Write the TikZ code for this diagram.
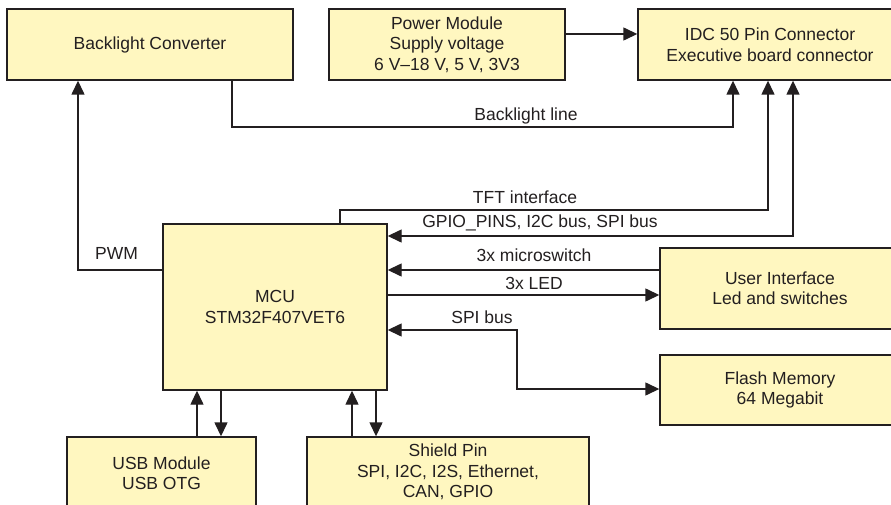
\documentclass[tikz,border=0pt]{standalone}
\usepackage{fontspec}
\setmainfont{Liberation Sans}
\usetikzlibrary{arrows.meta}
\definecolor{boxfill}{HTML}{FFF7C0}
\definecolor{ink}{HTML}{231F20}
\begin{document}
\begin{tikzpicture}[x=1pt,y=-1pt,
  box/.style={draw=ink, fill=boxfill, line width=1.4pt, inner sep=0pt, align=center,
    text=ink, font=\fontsize{17.5}{20.5}\selectfont},
  ln/.style={draw=ink, line width=1.4pt},
  arr/.style={ln, -{Triangle[length=14pt,width=13pt]}},
  arrb/.style={ln, {Triangle[length=14pt,width=13pt]}-{Triangle[length=14pt,width=13pt]}},
  lbl/.style={anchor=base, inner sep=0pt, text=ink, font=\fontsize{17.5}{20.5}\selectfont}]
\clip (0,0) rectangle (891,505);
\fill[white] (0,0) rectangle (891,505);

% boxes
\node[box, minimum width=286pt, minimum height=71pt] (bc) at (150,44.5) {Backlight Converter};
\node[box, minimum width=236pt, minimum height=71pt] (pm) at (447,44.5) {Power Module\\Supply voltage\\6 V\textendash18 V, 5 V, 3V3};
\node[box, minimum width=264pt, minimum height=71pt] (idc) at (770,44.5) {IDC 50 Pin Connector\\Executive board connector};
\node[box, minimum width=224pt, minimum height=166pt] (mcu) at (275,307) {MCU\\STM32F407VET6};
\node[box, minimum width=240pt, minimum height=81pt] (ui) at (780,288.5) {User Interface\\Led and switches};
\node[box, minimum width=240pt, minimum height=70pt] (fm) at (780,390) {Flash Memory\\64 Megabit};
\node[box, minimum width=189pt, minimum height=72pt] (usb) at (161.5,473) {USB Module\\USB OTG};
\node[box, minimum width=282pt, minimum height=70pt] (sh) at (448,472) {Shield Pin\\SPI, I2C, I2S, Ethernet,\\CAN, GPIO};

% bend coordinates
\coordinate (pw) at (78,270);
\coordinate (bl1) at (232,127);
\coordinate (bl2) at (733,127);
\coordinate (t1) at (340,210);
\coordinate (t2) at (768,210);
\coordinate (g1) at (793,236);
\coordinate (ms) at (600,270);
\coordinate (led) at (600,295);
\coordinate (s1) at (517,330);
\coordinate (s2) at (517,389);
\coordinate (pwr) at (600,34);
\coordinate (u1) at (197,400);
\coordinate (u2) at (221,400);
\coordinate (h1) at (352,400);
\coordinate (h2) at (376,400);

% connectors
\draw[arr] (pm.east |- pwr) -- (idc.west |- pwr);
\draw[arr] (bc.south -| bl1) -- (bl1) -- (bl2) -- (idc.south -| bl2);
\draw[arr] (mcu.west |- pw) -- (pw) -- (bc.south -| pw);
\draw[arr] (mcu.north -| t1) -- (t1) -- (t2) -- (idc.south -| t2);
\draw[arrb] (mcu.east |- g1) -- (g1) -- (idc.south -| g1);
\draw[arr] (ui.west |- ms) -- (mcu.east |- ms);
\draw[arr] (mcu.east |- led) -- (ui.west |- led);
\draw[arrb] (mcu.east |- s1) -- (s1) -- (s2) -- (fm.west |- s2);
\draw[arr] (usb.north -| u1) -- (mcu.south -| u1);
\draw[arr] (mcu.south -| u2) -- (usb.north -| u2);
\draw[arr] (sh.north -| h1) -- (mcu.south -| h1);
\draw[arr] (mcu.south -| h2) -- (sh.north -| h2);

% labels
\node[lbl] (lbl1) at (526,121) {Backlight line};
\node[lbl] (lbl2) at (525,204) {TFT interface};
\node[lbl] (lbl3) at (540,227) {GPIO\_PINS, I2C bus, SPI bus};
\node[lbl] (lbl4) at (534,261) {3x microswitch};
\node[lbl] (lbl5) at (534,289) {3x LED};
\node[lbl] (lbl6) at (482,323) {SPI bus};
\node[lbl] (lbl7) at (116.5,259) {PWM};
\end{tikzpicture}
\end{document}
